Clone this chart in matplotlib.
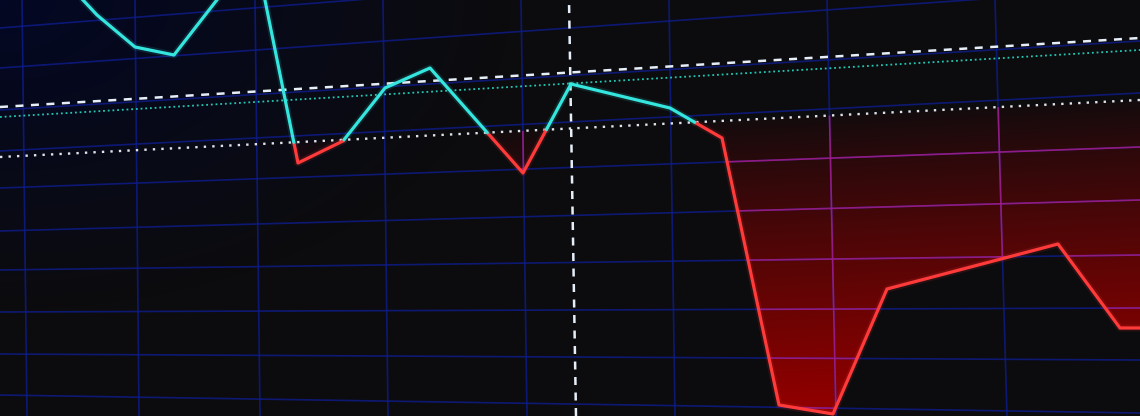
import numpy as np
import matplotlib
matplotlib.use('Agg')
import matplotlib.pyplot as plt
from matplotlib.patches import Polygon

# price path: time index and price
t = [40, 97, 135, 174, 255, 298, 343, 385, 430, 523, 571, 670, 722, 779, 833, 887, 1058, 1120, 1140]
price = [462, 401, 369, 361, 465, 253, 275, 328, 348, 243, 332, 308, 278, 11, 2, 127, 172, 88, 88]

# sloped reference lines, value at t=0 and at t=1140
line_t = [0, 1140]
baseline = [259, 316]
upper_band = [309, 378]
mid_band = [299, 366]

# vertical cursor (t at bottom and top)
cursor_t = [576, 569]
cursor_v = [0, 416]

# perspective grid
hgrid_left = [388, 348, 306, 265, 228, 185, 146, 104, 62, 21]
hgrid_right = [478, 428, 375, 323, 269, 216, 161, 108, 56, 3]
vgrid_bottom = [27, 139, 260, 388, 527, 675, 836, 1007]
vgrid_top = [22, 135, 255, 383, 521, 669, 827, 995]

T0, T1, V0, V1 = 0, 1140, 0, 416

fig = plt.figure(figsize=(11.4, 4.16), dpi=100, facecolor='#0c0c0e')
ax = fig.add_axes([0, 0, 1, 1])
ax.set_facecolor('#0c0c0e')
ax.set_xlim(T0, T1)
ax.set_ylim(V0, V1)
ax.axis('off')

# navy glow in the upper left corner
gx, gy = np.meshgrid(np.linspace(0, 1, 400), np.linspace(0, 1, 150))
glow = np.zeros((150, 400, 4))
glow[..., 0], glow[..., 1], glow[..., 2] = 0.01, 0.03, 0.15
glow[..., 3] = np.clip(1 - np.sqrt((gx / 0.45) ** 2 + ((1 - gy) / 0.75) ** 2), 0, 1) * 0.9
ax.imshow(glow, extent=[T0, T1, V0, V1], origin='lower', aspect='auto',
          interpolation='bilinear', zorder=0)

# area between baseline and price where price is below it
tt = np.linspace(T0, T1, 2281)
pp = np.interp(tt, t, price)
bb = np.interp(tt, line_t, baseline)
low = np.minimum(pp, bb)
verts = np.vstack([np.column_stack([tt, bb]), np.column_stack([tt[::-1], low[::-1]])])
fill_poly = Polygon(verts, closed=True, facecolor='none', edgecolor='none',
                    transform=ax.transData)
ax.add_patch(fill_poly)

iy, ix = np.mgrid[V0:V1:2, T0:T1:2]
depth = np.interp(ix, line_t, baseline) - iy
red = np.zeros(ix.shape + (4,))
red[..., 0], red[..., 1], red[..., 2] = 0.56, 0.0, 0.0
red[..., 3] = np.clip(depth / 280, 0, 1) ** 0.9 * 0.95 + 0.05
im = ax.imshow(red, extent=[T0, T1, V0, V1], origin='lower', aspect='auto',
               interpolation='bilinear', zorder=1)
im.set_clip_path(fill_poly)

# grid, blue outside and magenta inside the red area
for a, b in zip(hgrid_left, hgrid_right):
    ax.plot([T0, T1], [a, b], color='#0e1c8c', lw=1.2, alpha=0.8, zorder=2)
    m, = ax.plot([T0, T1], [a, b], color='#a01c84', lw=1.2, alpha=0.9, zorder=3)
    m.set_clip_path(fill_poly)
for a, b in zip(vgrid_bottom, vgrid_top):
    ax.plot([a, b], [V0, V1], color='#0e1c8c', lw=1.2, alpha=0.8, zorder=2)
    m, = ax.plot([a, b], [V0, V1], color='#a01c84', lw=1.2, alpha=0.9, zorder=3)
    m.set_clip_path(fill_poly)

# reference lines
ax.plot(line_t, upper_band, color='#e6eef8', lw=1.8, dashes=(3.2, 3.0), zorder=4)
ax.plot(line_t, mid_band, color='#22c8b4', lw=1.3, dashes=(1, 1.6), zorder=4)
ax.plot(line_t, baseline, color='#e0e4ea', lw=1.7, dashes=(1, 2.6), zorder=4)
ax.plot(cursor_t, cursor_v, color='#e6eef8', lw=1.8, dashes=(3.2, 3.0), zorder=4)

# split price path at the baseline
pt, pv = [t[0]], [price[0]]
d = np.array(price) - np.interp(t, line_t, baseline)
for i in range(1, len(t)):
    if d[i - 1] * d[i] < 0:
        tc = t[i - 1] + d[i - 1] / (d[i - 1] - d[i]) * (t[i] - t[i - 1])
        pt.append(tc)
        pv.append(np.interp(tc, line_t, baseline))
    pt.append(t[i])
    pv.append(price[i])
pt, pv = np.array(pt), np.array(pv)
dd = pv - np.interp(pt, line_t, baseline)
above = np.where(dd >= -1e-6, pv, np.nan)
below = np.where(dd <= 1e-6, pv, np.nan)

for vals, col in [(below, '#ff3a3a'), (above, '#34e6de')]:
    ax.plot(pt, vals, color=col, lw=5, alpha=0.12, zorder=5, solid_capstyle='round')
    ax.plot(pt, vals, color=col, lw=2.3, zorder=6, solid_capstyle='round',
            solid_joinstyle='round')

fig.savefig('out.png', dpi=100, facecolor=fig.get_facecolor())
